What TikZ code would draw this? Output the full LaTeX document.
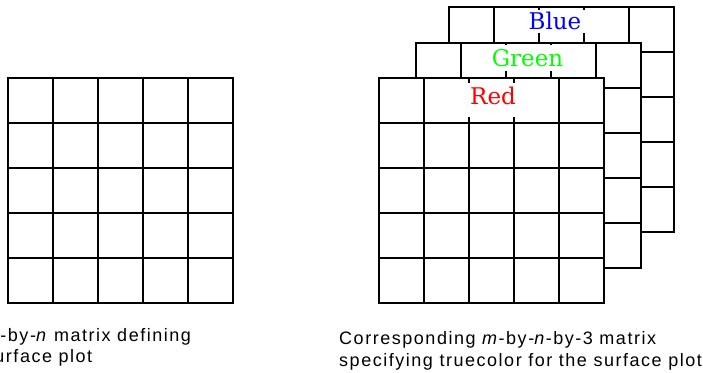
\documentclass[tikz,border=0pt]{standalone}
\usepackage{fontspec}
\newfontfamily\capfont[LetterSpace=8.5]{Liberation Sans}
\newfontfamily\chfont{DejaVu Serif}
\begin{document}
\begin{tikzpicture}[x=1pt,y=-1pt,
    cell/.style={line width=1.1pt},
    chan/.style={fill=white,inner sep=0pt,minimum width=76pt,anchor=base,font=\chfont\fontsize{23}{23}\selectfont},
    captext/.style={anchor=base west,inner sep=0pt,font=\capfont\fontsize{18}{22}\selectfont}]
  \clip (0,0) rectangle (703,372);
  % left matrix, then blue, green and red planes
  \foreach \ox/\oy in {8/78, 449/7, 416/43, 379/78}{
    \draw[cell,fill=white] (\ox,\oy) rectangle ++(225,225);
    \foreach \k in {1,...,4}{
      \draw[cell] (\ox+45*\k,\oy) -- ++(0,225);
      \draw[cell] (\ox,\oy+45*\k) -- ++(225,0);
    }
  }
  \node[chan,text=blue,text height=19.3pt,text depth=3.7pt] (blue) at (555,29.3) {Blue};
  \node[chan,text=green,text height=21.5pt,text depth=4.5pt] (green) at (527.5,66.5) {Green};
  \node[chan,text=red,text height=21pt,text depth=13pt] (red) at (493,104.3) {Red};
  % captions
  \node[captext] (capL1) at (-16.3,341) {\textit{m}-by-\textit{n} matrix defining};
  \node[captext] (capL2) at (-16.3,362) {surface plot};
  \node[captext] (capR1) at (339,344) {Corresponding \textit{m}-by-\textit{n}-by-3 matrix};
  \node[captext] (capR2) at (339,366) {specifying truecolor for the surface plot};
\end{tikzpicture}
\end{document}
